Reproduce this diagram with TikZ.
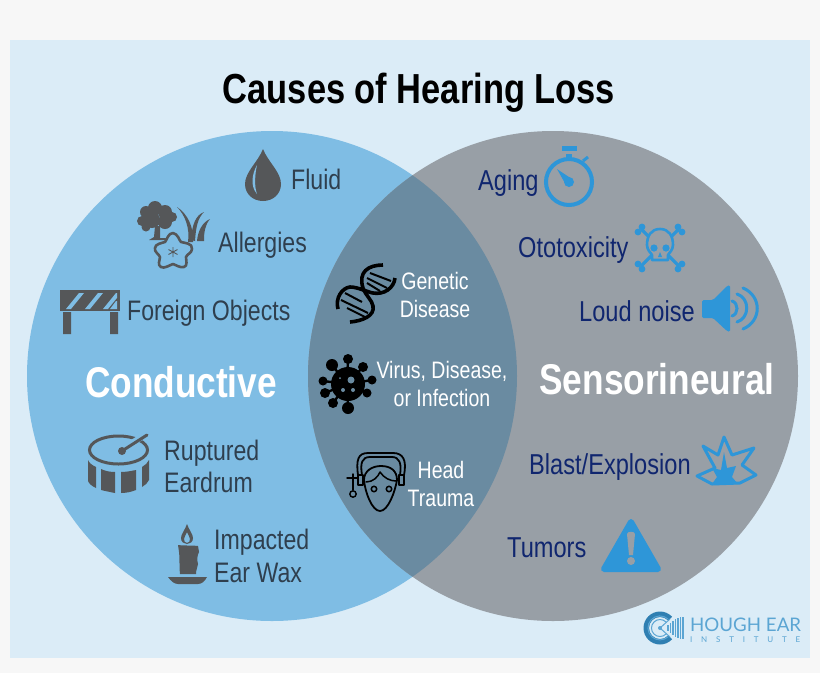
\documentclass[tikz,border=0pt]{standalone}
\usepackage{fontspec}
\setmainfont[FakeStretch=0.82]{Liberation Sans}
\newfontfamily\logofont{Lato}
\usetikzlibrary{calc}
\definecolor{pagebg}{HTML}{F7F7F7}
\definecolor{panel}{HTML}{DBECF7}
\definecolor{leftc}{HTML}{7FBDE4}
\definecolor{rightc}{HTML}{989FA6}
\definecolor{midc}{HTML}{6A8BA1}
\definecolor{icong}{HTML}{555759}
\definecolor{leftt}{HTML}{2F3F4E}
\definecolor{navy}{HTML}{10266F}
\definecolor{iconb}{HTML}{2E96D8}
\definecolor{logob}{HTML}{5BA5D3}
\definecolor{logod}{HTML}{2F7FB2}
\tikzset{
 x=1pt,y=-1pt,
 lefttxt/.style={text=leftt,inner sep=0,font=\fontsize{28.2}{32.5}\selectfont,align=left},
 righttxt/.style={text=navy,inner sep=0,font=\fontsize{28.8}{32.5}\selectfont,align=left},
 midtxt/.style={text=white,inner sep=0,font=\fontsize{23.8}{27.5}\selectfont,align=center},
 bigtxt/.style={text=white,inner sep=0,font=\fontsize{43}{46}\selectfont\bfseries},
 gicon/.style={fill=icong,draw=none},
 bicon/.style={fill=iconb,draw=none},
 bline/.style={draw=iconb,line width=4pt,fill=none},
 kline/.style={draw=black,line width=1.8pt,fill=none,line cap=round,line join=round},
}
\begin{document}
\begin{tikzpicture}
\useasboundingbox (0,0) rectangle (820,673);
\fill[pagebg] (0,0) rectangle (820,673);
\fill[panel] (10,40) rectangle (810,658);
\fill[leftc] (272,376) circle[radius=245];
\fill[rightc] (553,376) circle[radius=245];
\begin{scope}
 \clip (272,376) circle[radius=245];
 \fill[midc] (553,376) circle[radius=245];
\end{scope}
% title
\node[inner sep=0,text=black,font=\fontsize{42}{44}\selectfont\bfseries] (title) at (419,93) {Causes of Hearing Loss};
% left labels
\node[lefttxt,anchor=west] (fluid) at (291,179) {Fluid};
\node[lefttxt,anchor=west] (allergies) at (218,245.5) {Allergies};
\node[lefttxt,anchor=west] (foreign) at (127,313.5) {Foreign Objects};
\node[bigtxt] (conductive) at (181,382) {Conductive};
\node[lefttxt,anchor=west] (ruptured) at (164,466.5) {Ruptured\\Eardrum};
\node[lefttxt,anchor=west] (wax) at (214,556) {Impacted\\Ear Wax};
% middle labels
\node[midtxt] (genetic) at (435,295) {Genetic\\Disease};
\node[midtxt] (virus) at (442,384) {Virus, Disease,\\or Infection};
\node[midtxt] (head) at (441,484) {Head\\Trauma};
% right labels
\node[righttxt,anchor=west] (aging) at (478,183) {Aging};
\node[righttxt,anchor=west] (oto) at (518,250) {Ototoxicity};
\node[righttxt,anchor=west] (loud) at (579,311) {Loud noise};
\node[bigtxt] (sensori) at (657,379) {Sensorineural};
\node[righttxt,anchor=west] (blast) at (529,467) {Blast/Explosion};
\node[righttxt,anchor=west] (tumors) at (507,548) {Tumors};
% drop
\fill[icong] (263,149) .. controls (258,162) and (245,172) .. (245,184) .. controls (245,194) and (253,201) .. (263,201) .. controls (273,201) and (281,194) .. (281,184) .. controls (281,172) and (268,162) .. (263,149) -- cycle;
\fill[leftc] (257,165) .. controls (252,174) and (250,186) .. (257,194) .. controls (254,186) and (255,174) .. (257,165) -- cycle;
% tree
\fill[icong] (155,208) circle[radius=7] (146,212) circle[radius=6] (165,212) circle[radius=7] (142,221) circle[radius=5] (152,220) circle[radius=8] (165,222) circle[radius=7] (172,217) circle[radius=5] (146,227) circle[radius=4.5];
\fill[icong] (155,226) -- (160,226) -- (160,238) -- (166,238) -- (165,240) -- (149,240) -- (154,237) -- cycle;
% grass
\fill[icong] (177,207) .. controls (188,214) and (194,228) .. (193,242) -- (188,242) .. controls (190,228) and (185,215) .. (177,207) -- cycle;
\fill[icong] (204,212) .. controls (196,215) and (192,224) .. (191,240) -- (195,241) .. controls (196,226) and (198,218) .. (204,212) -- cycle;
\fill[icong] (210,219) .. controls (203,222) and (198,230) .. (197,241) -- (204,241) .. controls (204,232) and (205,225) .. (210,219) -- cycle;
% flower
\draw[draw=icong,line width=2.6pt,fill=leftc,line join=round] (173,233) .. controls (178,234) and (179,240) .. (181,242) .. controls (184,243) and (193,243) .. (192,249) .. controls (192,253) and (187,254) .. (186,257) .. controls (186,260) and (188,266) .. (184,267) .. controls (180,268) and (176,265) .. (173,264) .. controls (170,265) and (164,269) .. (161,267) .. controls (157,265) and (160,260) .. (160,257) .. controls (159,254) and (154,252) .. (155,248) .. controls (155,244) and (162,243) .. (165,242) .. controls (167,240) and (168,233) .. (173,233) -- cycle;
\draw[icong,line width=0.9pt] (173,247)--(173,257) (168.5,249.5)--(177.5,254.5) (168.5,254.5)--(177.5,249.5);
% barrier
\fill[icong] (60,290) rectangle (120,311);
\fill[icong] (63,312) rectangle (71,334) (110,312) rectangle (118,334);
\begin{scope}
 \clip (63,293) rectangle (117,309);
 \foreach \xx in {66,85,103}{\fill[leftc] (\xx,309) -- (\xx+5,309) -- (\xx+18,293) -- (\xx+13,293) -- cycle;}
 \fill[leftc] (116,301)--(118,301)--(118,309)--(110,309)--cycle;
\end{scope}
% drum
\fill[icong] (88,460) -- (88,481) .. controls (89,484) and (92,486) .. (96,488) -- (96,467) .. controls (92,465) and (89,463) .. (88,460) -- cycle;
\fill[icong] (101,469) -- (101,490) .. controls (105,491) and (110,492) .. (115,493) -- (115,472) .. controls (110,472) and (105,471) .. (101,469) -- cycle;
\fill[icong] (121,472) -- (121,493) .. controls (126,493) and (131,492) .. (136,490) -- (136,470) .. controls (131,471) and (126,472) .. (121,472) -- cycle;
\fill[icong] (142,467) -- (142,487) .. controls (145,485) and (148,483) .. (149,480) -- (149,460) .. controls (148,463) and (145,465) .. (142,467) -- cycle;
\draw[icong,line width=3pt] (118.5,450) ellipse[x radius=29,y radius=14];
\draw[leftc,line width=6pt] (130,444) -- (150,432);
\draw[icong,line width=3pt,line cap=round] (122,451) -- (147,435);
\fill[icong] (122,451) circle[radius=4];
% candle
\fill[icong,even odd rule] (187,524) .. controls (189,530) and (193,534) .. (193,538) .. controls (193,542) and (190,544) .. (187,544) .. controls (184,544) and (181,542) .. (181,538) .. controls (181,534) and (185,530) .. (187,524) -- cycle (187,532) .. controls (186,535) and (184,537) .. (184,539) .. controls (184,541) and (185,543) .. (187,543) .. controls (189,543) and (190,541) .. (190,539) .. controls (190,537) and (188,535) .. (187,532) -- cycle;
\fill[icong] (178,545) .. controls (183,546) and (192,545) .. (198,546) -- (199,552) .. controls (197,556) and (197,560) .. (198,564) -- (196,572) -- (196,574) -- (180,574) .. controls (179,568) and (180,560) .. (179,552) -- cycle;
\fill[icong] (168,577) -- (207,577) .. controls (205,581) and (202,584) .. (198,584) -- (178,584) .. controls (174,584) and (171,581) .. (168,577) -- cycle;
% dna
\draw[black,line width=2pt] (370,273)--(391,281) (367,278)--(387,288) (367,283)--(380,291) (345,293)--(362,302) (341,300)--(368,313) (347,308)--(367,318);
\draw[black,line width=3.6pt] (383,265) .. controls (368,265) and (358,272) .. (363,288) .. controls (366,296) and (372,300) .. (373,306) .. controls (375,316) and (362,321) .. (350,322);
\draw[black,line width=3.6pt] (395,278) .. controls (394,288) and (384,295) .. (373,293) .. controls (367,292) and (358,287) .. (350,287) .. controls (342,288) and (335,298) .. (338,309);
% virus
\foreach \bx/\by/\br in {348/359/5,363/367/5,372/380/4.5,367/393/4.5,348/408/6,333/403/5,325/393/5,323/381/4.5,332/365/6}{
 \draw[black,line width=2.4pt] (347,384) -- (\bx,\by);
 \fill[black] (\bx,\by) circle[radius=\br];
}
\fill[black] (348,384) circle[radius=17];
\fill[midc] (351,380) circle[radius=3.5] (343,390) circle[radius=2] (353,390) circle[radius=2] (340,378) circle[radius=1];
% head
\draw[kline] (364,480) .. controls (365,492) and (372,511) .. (380,511) .. controls (388,511) and (395,492) .. (397,480);
\draw[kline] (364,480) .. controls (364,471) and (372,466) .. (381,466) .. controls (391,466) and (397,471) .. (397,480);
\draw[kline,line width=1.5pt] (366,482) .. controls (373,482) and (378,477) .. (380,472) .. controls (384,478) and (390,481) .. (396,481);
\draw[kline] (358,475) .. controls (356,460) and (358,453) .. (368,453) -- (393,453) .. controls (403,453) and (407,460) .. (404,475);
\draw[kline] (362,475) .. controls (360,463) and (362,457) .. (370,457) -- (392,457) .. controls (399,457) and (402,463) .. (400,475);
\draw[kline] (358,475) rectangle (363,485) (399,475) rectangle (404,485);
\draw[black,line width=1.5pt] (374,489) circle[radius=2.7] (389,489) circle[radius=2.7];
\draw[kline,line width=1.4pt] (347,478) -- (357,478) (353,474) -- (353,490);
\draw[black,line width=1.4pt] (353,494) circle[radius=3.2];
% stopwatch
\draw[bline] (569,182) circle[radius=23];
\fill[bicon] (562,146) rectangle (577,151);
\fill[bicon] (566,154) rectangle (572,159);
\draw[iconb,line width=3pt] (583,161) -- (588,157);
\fill[bicon] (557,169) -- (572,179) -- (566,185) -- cycle;
\fill[bicon] (569,182) circle[radius=5];
% skull
\draw[iconb,line width=3.2pt,line cap=round] (642,230) -- (678,265) (678,230) -- (642,265);
\foreach \px/\py in {642/227,638/232,678/227,682/232,638/264,642/269,682/264,678/269}{\fill[iconb] (\px,\py) circle[radius=3.4];}
\draw[draw=iconb,line width=2.6pt,fill=rightc,line join=round] (660,229) .. controls (669,229) and (673,236) .. (673,245) .. controls (673,250) and (669,253) .. (668,255) -- (668,260) -- (652,260) -- (652,255) .. controls (651,253) and (647,250) .. (647,245) .. controls (647,236) and (651,229) .. (660,229) -- cycle;
\fill[bicon] (654,248) circle[radius=3.6] (666,248) circle[radius=3.6];
\fill[bicon] (660,252) -- (662,257) -- (658,257) -- cycle;
% speaker
\fill[bicon,rounded corners=1.5pt] (702,300) -- (713,300) -- (727,286) -- (730,285) -- (730,332) -- (727,331) -- (713,318) -- (702,318) -- cycle;
\draw[iconb,line width=3pt,line cap=round] (732,301) .. controls (738.7,303) and (738.7,314) .. (732,316);
\draw[iconb,line width=3pt,line cap=round] (737,294) .. controls (750,298) and (750,318) .. (737,322);
\draw[iconb,line width=3pt,line cap=round] (743,288) .. controls (762,296) and (762,321) .. (743,329);
% blast
\draw[draw=iconb,line width=3pt,line join=round,fill=rightc] (697,476) -- (715,468) -- (703,446) -- (718,455) -- (724,437) -- (732,455) -- (754,448) -- (742,465) -- (756,475) -- (740,483) -- (712,484) -- cycle;
\fill[bicon] (724,452) -- (727,468) -- (736,466) -- (732,477) -- (738,484) -- (712,484) -- (717,477) -- (712,468) -- (721,470) -- cycle;
% warning triangle
\fill[bicon,draw=iconb,line width=6pt,line join=round] (631,522) -- (604,569) -- (658,569) -- cycle;
\fill[rightc] (627,534) .. controls (627,531) and (635,531) .. (635,534) -- (633,555) -- (629,555) -- cycle;
\fill[rightc] (631,561) circle[radius=4];
% logo
\fill[logod,even odd rule] (660,628) circle[radius=16.5] (660,628) circle[radius=11];
\fill[panel] (660,628) -- (680,610) -- (680,646) -- cycle;
\draw[logob,line width=1pt] (668,619) arc[start angle=-48,end angle=-312,radius=12];
\draw[logob,line width=1pt] (666,622) arc[start angle=-45,end angle=-315,radius=8.5];
\draw[logob,line width=1pt] (660,628) -- (670,619) (660,628) -- (670,637);
\fill[logob] (660,628) circle[radius=2];
\foreach \lx/\lh in {668/3,670.5/5,673/7,675.5/9,678/10,680.5/11,683/11}{
 \draw[logob,line width=1.1pt] (\lx,628-\lh) -- (\lx,628+\lh);
}
\node[inner sep=0,anchor=west,text=logob,font=\logofont\fontsize{18.7}{19}\selectfont] (hough) at (690,624.5) {HOUGH EAR};
\node[inner sep=0,anchor=west,text=logob,font=\logofont\fontsize{8}{9}\selectfont\addfontfeature{LetterSpace=110}] (institute) at (690,639.5) {INSTITUTE};
\end{tikzpicture}
\end{document}
